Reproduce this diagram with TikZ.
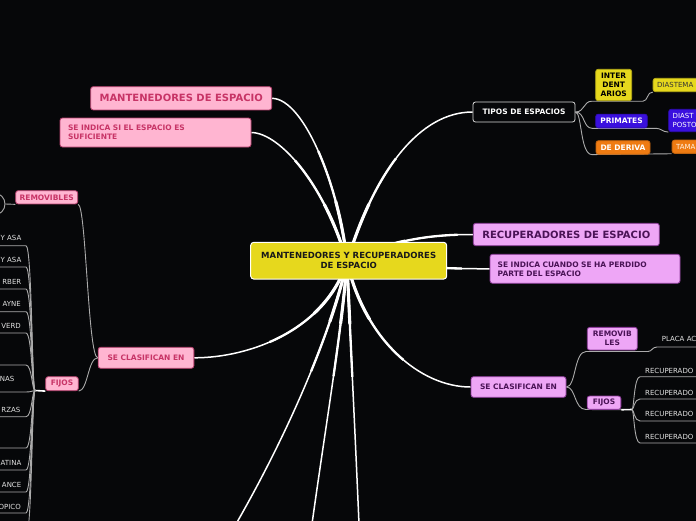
\documentclass[tikz,border=0pt]{standalone}
\usepackage{fontspec}
\setmainfont{DejaVu Sans}
\definecolor{bg}{HTML}{060709}
\definecolor{pinkfill}{HTML}{FFB5D1}
\definecolor{pinkdraw}{HTML}{B8406E}
\definecolor{pinktext}{HTML}{C73466}
\definecolor{vfill}{HTML}{EEA6F6}
\definecolor{vdraw}{HTML}{8E3C9C}
\definecolor{vtext}{HTML}{4A1356}
\definecolor{ylw}{HTML}{E6D81D}
\definecolor{blu}{HTML}{3A10DE}
\definecolor{org}{HTML}{EF7B12}
\definecolor{conn}{HTML}{ABABAB}
\definecolor{leaftext}{HTML}{E2E2E2}
\pgfdeclarelayer{bgfill}
\pgfdeclarelayer{lines}
\pgfsetlayers{bgfill,lines,main}
\tikzset{
  box/.style={rectangle, rounded corners=2.5pt, inner sep=0pt, line width=0.8pt,
    font=\bfseries\fontsize{7.5}{9}\selectfont},
  pinkbox/.style={box, fill=pinkfill, draw=pinkdraw, text=pinktext},
  vbox/.style={box, fill=vfill, draw=vdraw, text=vtext},
  leaf/.style={font=\fontsize{7}{8.4}\selectfont, text=leaftext, inner sep=0pt},
  mainline/.style={draw=white, line width=1.5pt},
  mainmid/.style={draw=white, line width=2.3pt, dash pattern=on 115pt off 3000pt},
  mainthick/.style={draw=white, line width=3.1pt, dash pattern=on 62pt off 3000pt},
  subline/.style={draw=conn, line width=0.9pt},
}
\newcommand\mymainline[1]{\draw[mainline] #1; \draw[mainmid] #1; \draw[mainthick] #1;}
\begin{document}
\begin{tikzpicture}[x=1pt,y=-1pt]
\useasboundingbox (0,0) rectangle (696,520);
\begin{pgfonlayer}{bgfill}
\fill[bg] (-20,-20) rectangle (720,560);
\end{pgfonlayer}

\coordinate (hub) at (347,262);
\coordinate (fjL) at (35,390.5);
\coordinate (fjR) at (632,409.5);

% ---------- nodes
\node[box, fill=ylw, draw=white, line width=1pt, rounded corners=3pt,
  minimum width=196pt, minimum height=36.7pt, align=center,
  font=\bfseries\fontsize{8.5}{10}\selectfont, text=black!90] (center) at (348.7,260.7)
  {MANTENEDORES Y RECUPERADORES\\DE ESPACIO};

\node[pinkbox, minimum width=181pt, minimum height=23.3pt,
  font=\bfseries\fontsize{10}{12}\selectfont] (mant) at (181.2,98.3) {MANTENEDORES DE ESPACIO};
\node[pinkbox, minimum width=191pt, minimum height=29pt, text width=175pt, align=left] (indsi) at (155.5,132.5)
  {SE INDICA SI EL ESPACIO ES\\SUFICIENTE};
\node[pinkbox, minimum width=95.7pt, minimum height=21pt] (clasL) at (146,357.8) {SE CLASIFICAN EN};
\node[pinkbox, minimum width=62pt, minimum height=13.3pt] (remL) at (46.7,197.3) {REMOVIBLES};
\node[pinkbox, minimum width=32.6pt, minimum height=14pt] (fijL) at (62,383.7) {FIJOS};
\node[circle, draw=conn, line width=0.9pt, minimum size=22pt, inner sep=0pt] (remimg) at (-6,204) {};

\node[box, fill=bg, draw=white!85!black, text=white, minimum width=102pt, minimum height=20pt] (tipos) at (524,112) {TIPOS DE ESPACIOS};
\node[box, fill=ylw, draw=ylw!80!black, text=black, minimum width=36pt, minimum height=31.4pt, align=center] (inter) at (613.7,85)
  {INTER\\DENT\\ARIOS};
\node[box, fill=ylw, draw=ylw!80!black, text=black!80, anchor=west, minimum height=13.4pt, text width=48pt, inner xsep=4pt, align=left,
  font=\fontsize{7}{8.4}\selectfont] (diastema) at (652.7,85) {DIASTEMA};
\node[box, fill=blu, draw=blu!80!black, text=white, minimum width=51.6pt, minimum height=13.7pt] (prim) at (621.5,121) {PRIMATES};
\node[box, fill=blu, draw=blu!80!black, text=white, anchor=west, minimum height=22.4pt, text width=42pt, inner xsep=4pt, align=left,
  font=\fontsize{7}{8.4}\selectfont] (dpost) at (668.3,120.5) {DIAST\\POSTO};
\node[box, fill=org, draw=org!80!black, text=white, minimum width=54pt, minimum height=13.6pt] (deriva) at (623,147.5) {DE DERIVA};
\node[box, fill=org, draw=org!80!black, text=white!90!orange, anchor=west, minimum height=13.3pt, text width=42pt, inner xsep=4pt, align=left,
  font=\fontsize{7}{8.4}\selectfont] (tama) at (671.7,146.7) {TAMA};

\node[vbox, minimum width=186pt, minimum height=22.4pt, font=\bfseries\fontsize{10}{12}\selectfont] (recup) at (566.3,234.5) {RECUPERADORES DE ESPACIO};
\node[vbox, minimum width=190pt, minimum height=29pt, text width=174.6pt, align=left] (indcu) at (585,268.8)
  {SE INDICA CUANDO SE HA PERDIDO\\PARTE DEL ESPACIO};
\node[vbox, minimum width=95pt, minimum height=20.6pt] (clasR) at (518.5,387) {SE CLASIFICAN EN};
\node[vbox, minimum width=50pt, minimum height=22.7pt, align=center] (remR) at (612.3,338.7) {REMOVIB\\LES};
\node[vbox, minimum width=33.7pt, minimum height=13.3pt] (fijR) at (604,402.7) {FIJOS};

\node[leaf, anchor=west] (placa) at (661.7,339.3) {PLACA AC};

% left leaves
\foreach \t/\x/\y [count=\k] in {Y ASA/21.5/238.3, Y ASA/21.5/260, RBER/21.5/282.3, AYNE/21/304.3, VERD/21/326,
   NAS/14.5/379.3, RZAS/20.5/410.3, ATINA/21.5/463.3, ANCE/21.5/485.3, OPICO/21/507.3}
  \node[leaf, anchor=east] (lt\k) at (\x,\y) {\t};

% ---------- connectors
\begin{pgfonlayer}{lines}
% main (white, tapering)
\coordinate (d1) at (236,524);
\coordinate (d2) at (312,524);
\coordinate (d3) at (359,524);
\mymainline{(hub) .. controls (340,190) and (305,99) .. (mant.east)}
\mymainline{(hub) .. controls (325,185) and (280,133) .. (indsi.east)}
\mymainline{(hub) .. controls (325,330) and (250,357.8) .. (clasL.east)}
\mymainline{(hub) .. controls (375,170) and (420,112) .. (tipos.west)}
\mymainline{(hub) .. controls (390,240) and (430,234.5) .. (recup.west)}
\mymainline{(hub) .. controls (420,268) and (460,268.8) .. (indcu.west)}
\mymainline{(hub) .. controls (365,340) and (420,387) .. (clasR.west)}
\mymainline{(hub) .. controls (332,330) and (290,430) .. (d1)}
\mymainline{(hub) .. controls (342,330) and (325,430) .. (d2)}
\mymainline{(hub) .. controls (350,330) and (355,430) .. (d3)}

% left sub tree
\draw[subline] (remL.south east) .. controls (86,204) and (88,357.8) .. (clasL.west);
\draw[subline] (fijL.south east) .. controls (88,390.5) and (88,357.8) .. (clasL.west);
\draw[subline] (remL.south west) -- (remimg.east);
\draw[white, line width=1.6pt] (fjL) -- (fijL.south west);
\foreach \u [count=\k] in {245.7,267,289,311.7,333,365,392,416.7,448,470,492,513,536} {
  \coordinate (lu\k) at (26,\u);
  \coordinate (le\k) at (-3,\u);
  \draw[subline] (fjL) .. controls (32,390.5) and (32,\u) .. (lu\k) -- (le\k);
}

% right upper sub tree
\coordinate (ib) at (643,101.2);
\coordinate (pb) at (656,128.3);
\draw[subline] (tipos.east) .. controls (585,112) and (583,101.2) .. (592,101.2) -- (ib)
   .. controls (648,101.2) and (647,91.7) .. (diastema.south west);
\draw[subline] (tipos.east) .. controls (585,112) and (583,128.3) .. (592,128.3) -- (pb)
   .. controls (661,128.3) and (662,131.7) .. (dpost.south west);
\draw[subline] (tipos.east) .. controls (582,112) and (580,154.6) .. (592,154.6) -- (tama.south west);

% right lower sub tree
\coordinate (rb) at (648,351.5);
\coordinate (pe) at (700,347);
\draw[subline] (clasR.east) .. controls (576,387) and (574,351.5) .. (586,351.5) -- (rb)
   .. controls (652,351.5) and (652,347) .. (657,347) -- (pe);
\draw[subline] (clasR.east) .. controls (576,387) and (574,409.5) .. (586,409.5) -- (fijR.south east);
\draw[white, line width=1.6pt] (fijR.south east) -- (fjR);
\foreach \u [count=\k] in {376.7,399,421,443} {
  \coordinate (ru\k) at (640,\u);
  \coordinate (re\k) at (700,\u);
  \draw[subline] (fjR) .. controls (634,409.5) and (634,\u) .. (ru\k) -- (re\k);
}
\end{pgfonlayer}

\foreach \u [count=\k] in {370.7,392.7,414.3,436.7}
  \node[leaf, anchor=west] (rt\k) at (645,\u) {RECUPERADO};
\end{tikzpicture}
\end{document}
